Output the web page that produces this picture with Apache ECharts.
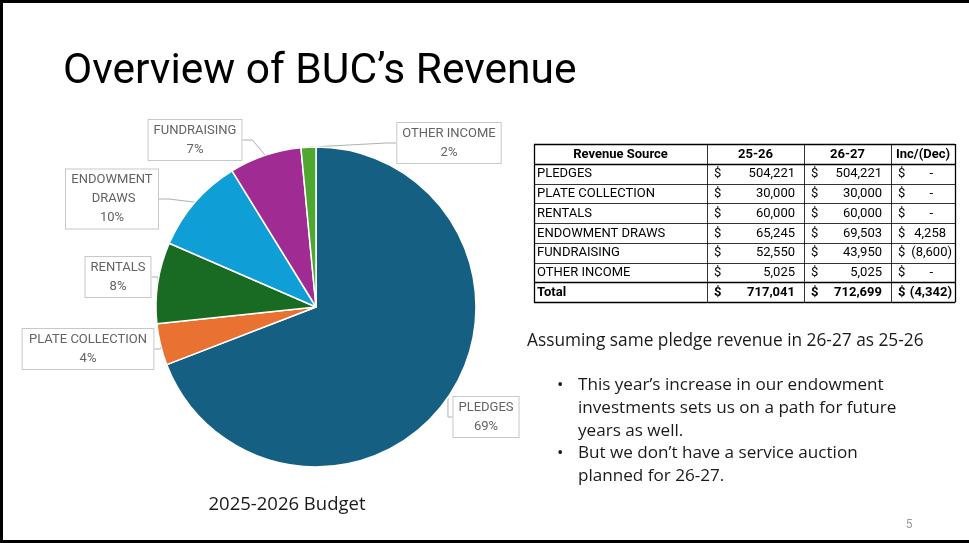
<!DOCTYPE html>
<html><head><meta charset="utf-8">
<script src="https://cdn.jsdelivr.net/npm/echarts@6/dist/echarts.min.js"></script>
<style>html,body{margin:0;padding:0;background:#fff}#c{width:969px;height:543px}</style>
</head><body><div id="c"></div>
<script>
const pieCategories = ['PLEDGES', 'PLATE COLLECTION', 'RENTALS', 'ENDOWMENT DRAWS', 'FUNDRAISING', 'OTHER INCOME'];
const pieShares = [69.2, 4.2, 8.2, 9.7, 7.3, 1.5];
const pieColors = ['#156082', '#E97132', '#196B24', '#0F9ED5', '#A02B93', '#4EA72E'];

// ---- Table data ----
const tableHeader = ['Revenue Source', '25-26', '26-27', 'Inc/(Dec)'];
const tableSources = ['PLEDGES', 'PLATE COLLECTION', 'RENTALS', 'ENDOWMENT DRAWS', 'FUNDRAISING', 'OTHER INCOME'];
const budget2526 = [504221, 30000, 60000, 65245, 52550, 5025];
const budget2627 = [504221, 30000, 60000, 69503, 43950, 5025];
const incDec = [0, 0, 0, 4258, -8600, 0];
const totalRow = ['Total', 717041, 712699, -4342];

// ---- Texts ----
const titleText = 'Overview of BUC\u2019s Revenue';
const captionText = '2025-2026 Budget';
const noteText = 'Assuming same pledge revenue in 26-27 as 25-26';
const bullets = [
  ['This year\u2019s increase in our endowment', 'investments sets us on a path for future', 'years as well.'],
  ['But we don\u2019t have a service auction', 'planned for 26-27.']
];
const pageNumber = '5';

(function () {
const chart = echarts.init(document.getElementById('c'), null, {renderer: 'canvas'});
const FONT = 'Roboto, "Noto Sans", sans-serif';
const BODY = '"Open Sans", Roboto, sans-serif';

// label box centres (layout only, in px)
const labelAnchors = {
  'PLEDGES': [486, 417],
  'PLATE COLLECTION': [88, 349],
  'RENTALS': [118, 277],
  'ENDOWMENT DRAWS': [112, 199],
  'FUNDRAISING': [195, 140],
  'OTHER INCOME': [449, 143]
};

function acct(v) {
  if (v === 0) return '-';
  const s = Math.abs(v).toLocaleString('en-US');
  return v < 0 ? '(' + s + ')' : s;
}

const g = [];
// slide frame
g.push({type: 'rect', shape: {x: 0, y: 0, width: 969, height: 3}, style: {fill: '#000'}});
g.push({type: 'rect', shape: {x: 0, y: 0, width: 3, height: 543}, style: {fill: '#000'}});
g.push({type: 'rect', shape: {x: 0, y: 540, width: 969, height: 3}, style: {fill: '#000'}});

// title etc
g.push({type: 'text', x: 63, y: 72, style: {text: titleText, font: '42.5px ' + FONT, fill: '#000', verticalAlign: 'middle'}});
g.push({type: 'text', x: 287, y: 505, style: {text: captionText, font: '18.5px ' + BODY, fill: '#1a1a1a', align: 'center', verticalAlign: 'middle'}});
g.push({type: 'text', x: 527, y: 341, style: {text: noteText, font: '17.3px ' + BODY, fill: '#1a1a1a', verticalAlign: 'middle'}});
let ly = 385.5;
bullets.forEach(lines => {
  g.push({type: 'text', x: 557, y: ly, style: {text: '\u2022', font: '17px ' + BODY, fill: '#1a1a1a', verticalAlign: 'middle'}});
  lines.forEach(t => {
    g.push({type: 'text', x: 578, y: ly, style: {text: t, font: '17.1px ' + BODY, fill: '#1a1a1a', verticalAlign: 'middle'}});
    ly += 22.6;
  });
});
g.push({type: 'text', x: 909, y: 525, style: {text: pageNumber, font: '12px ' + FONT, fill: '#9a9a9a', align: 'center', verticalAlign: 'middle'}});

// table
const colX = [534, 707, 804, 891, 955];
const tTop = 144, rowH = 19.75;
const rows = [];
rows.push({cells: tableHeader, header: true});
tableSources.forEach((s, i) => rows.push({cells: [s, budget2526[i], budget2627[i], incDec[i]]}));
rows.push({cells: totalRow, bold: true});
const nR = rows.length;
const tBottom = tTop + nR * rowH;
for (let r = 0; r <= nR; r++) {
  const y = Math.round(tTop + r * rowH) + 0.5;
  const w = (r === 0 || r === nR || r === 1 || r === nR - 1) ? 1.3 : 0.8;
  g.push({type: 'line', shape: {x1: colX[0], y1: y, x2: colX[4], y2: y}, style: {stroke: '#000', lineWidth: w}});
}
colX.forEach((x, i) => {
  g.push({type: 'line', shape: {x1: x + 0.5, y1: tTop, x2: x + 0.5, y2: Math.round(tBottom) + 0.5}, style: {stroke: '#000', lineWidth: (i === 0 || i === 4) ? 1.3 : 0.8}});
});
rows.forEach((row, r) => {
  const cy = tTop + r * rowH + rowH / 2 + 0.5;
  const font = (row.header || row.bold ? 'bold ' : '') + '13px ' + FONT;
  if (row.header) {
    row.cells.forEach((t, c) => {
      g.push({type: 'text', x: (colX[c] + colX[c + 1]) / 2, y: cy, style: {text: t, font: font, fill: '#000', align: 'center', verticalAlign: 'middle'}});
    });
    return;
  }
  g.push({type: 'text', x: colX[0] + 3, y: cy, style: {text: row.cells[0], font: font, fill: '#000', verticalAlign: 'middle'}});
  for (let c = 1; c <= 3; c++) {
    const v = row.cells[c];
    g.push({type: 'text', x: colX[c] + 7, y: cy, style: {text: '$', font: font, fill: '#000', verticalAlign: 'middle'}});
    let rx = colX[c + 1] - 9;
    if (v === 0) rx = colX[c + 1] - 22;
    else if (v < 0) rx = colX[c + 1] - 3;
    g.push({type: 'text', x: rx, y: cy, style: {text: acct(v), font: font, fill: '#000', align: 'right', verticalAlign: 'middle'}});
  }
});

const labelOverrides = {
  'ENDOWMENT DRAWS': {width: 82, overflow: 'break'}
};

chart.setOption({
  animation: false,
  backgroundColor: '#fff',
  graphic: g,
  series: [{
    type: 'pie',
    center: [316, 307],
    radius: 160,
    startAngle: 90,
    clockwise: true,
    percentPrecision: 0,
    silent: true,
    data: pieCategories.map((n, i) => ({
      name: n, value: pieShares[i],
      itemStyle: {color: pieColors[i]},
      label: labelOverrides[n] || {}
    })),
    itemStyle: {borderColor: '#fff', borderWidth: 1.5},
    label: {
      show: true, position: 'outside', formatter: '{b}\n{d}%',
      color: '#636363', fontSize: 13, lineHeight: 19, fontFamily: FONT,
      backgroundColor: '#fff', borderColor: '#c8c8c8', borderWidth: 1, padding: [1, 5]
    },
    labelLine: {show: true, length: 10, length2: 10, lineStyle: {color: '#b0b0b0', width: 1}},
    labelLayout: function (p) {
      const a = labelAnchors[pieCategories[p.dataIndex]];
      return {x: a[0], y: a[1], align: 'center', verticalAlign: 'middle'};
    }
  }]
});
})();
</script>
</body></html>
